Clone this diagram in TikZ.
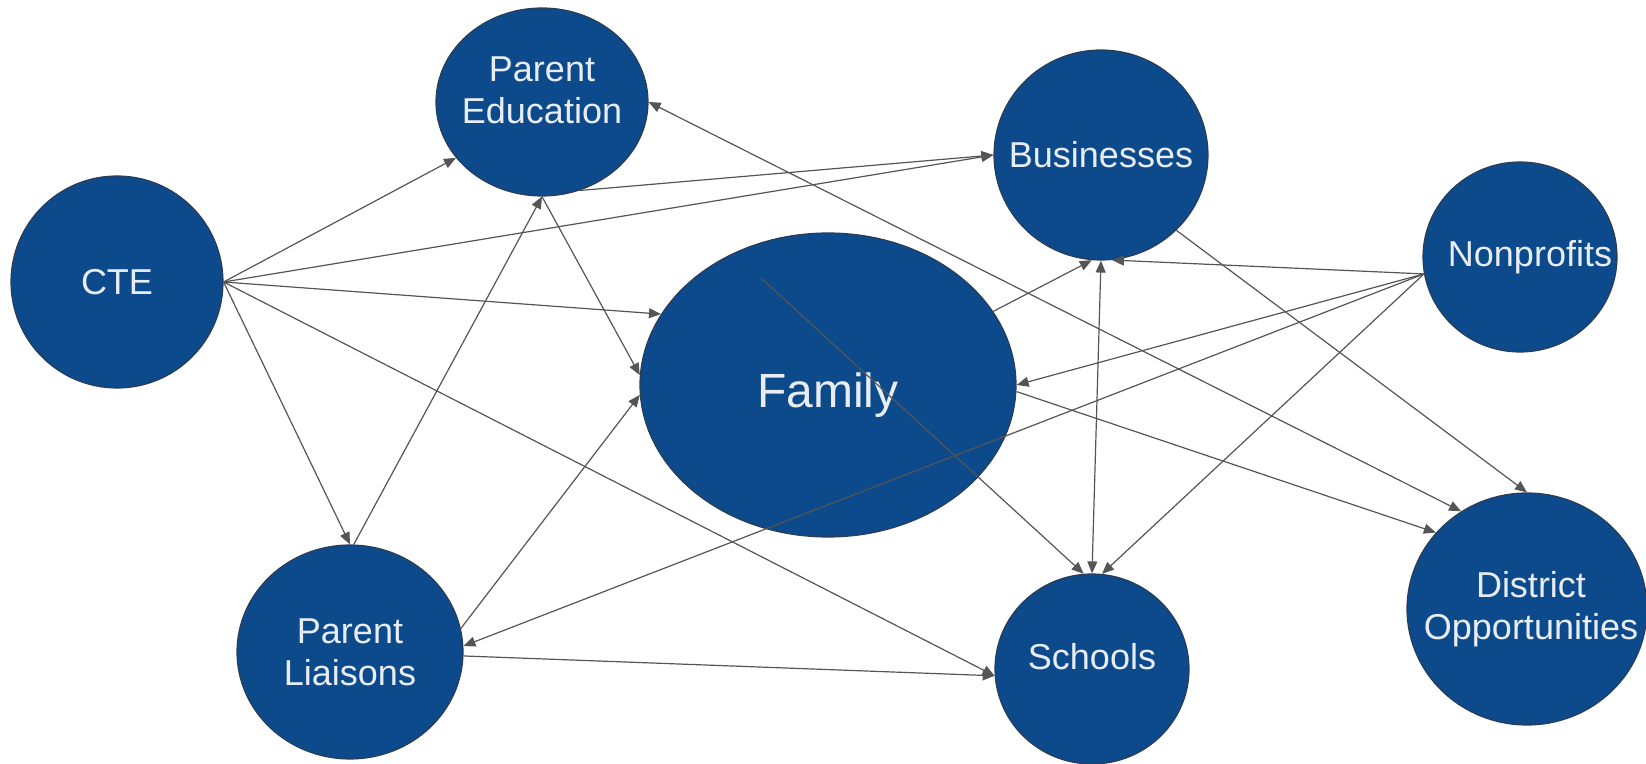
\documentclass[tikz,border=0pt]{standalone}
\usepackage{fontspec}
\setmainfont{Liberation Sans}
\usetikzlibrary{arrows.meta,shapes.geometric}

\definecolor{nodeblue}{HTML}{0D4A8B}
\definecolor{nodeedge}{HTML}{2B3C55}
\definecolor{linkgray}{HTML}{555555}
\definecolor{labelwhite}{HTML}{E8EDF4}

\tikzset{
  party/.style={ellipse,fill=nodeblue,draw=nodeedge,line width=0.6pt,inner sep=0pt},
  partytext/.style={text=labelwhite,align=center,inner sep=0pt,font=\fontsize{18}{21}\selectfont},
  link/.style={draw=linkgray,line width=0.6pt,-{Triangle[length=6pt,width=5pt]}},
  both/.style={link,{Triangle[length=6pt,width=5pt]}-{Triangle[length=6pt,width=5pt]}},
}

\begin{document}
\begin{tikzpicture}[x=0.5pt,y=-0.5pt]
  \useasboundingbox (0,0) rectangle (1646,764);
  \node[party,minimum width=106pt,minimum height=106pt,label={[partytext]center:CTE}] (cte) at (117,282) {};
  \node[party,minimum width=106pt,minimum height=94pt,label={[partytext,yshift=6pt]center:Parent\\Education}] (pedu) at (542,102) {};
  \node[party,minimum width=107pt,minimum height=105pt,label={[partytext]center:Businesses}] (bus) at (1101,155) {};
  \node[party,minimum width=97pt,minimum height=95pt,label={[partytext,xshift=5pt]center:Nonprofits}] (nonp) at (1520,257) {};
  \node[party,minimum width=188pt,minimum height=152pt,label={[partytext,yshift=-5pt,font=\fontsize{24}{28}\selectfont]center:Family}] (fam) at (828,385) {};
  \node[party,minimum width=113pt,minimum height=107pt,label={[partytext]center:Parent\\Liaisons}] (plia) at (350,652) {};
  \node[party,minimum width=97pt,minimum height=95pt,label={[partytext,yshift=6pt]center:Schools}] (sch) at (1092,669) {};
  \node[party,minimum width=120pt,minimum height=116pt,label={[partytext,xshift=2pt]center:District\\Opportunities}] (dist) at (1527,609) {};
  \coordinate (famtop) at (761,278);

  % connectors
  \foreach \from/\to in {cte.east/pedu.213, cte.east/bus.west, cte.east/fam.157,
      cte.east/plia.north, cte.east/sch.184, pedu.-67/bus.west, pedu.south/fam.177,
      plia.88/pedu.south, plia.12/fam.183, plia.-2/sch.184, nonp.190/bus.-84,
      nonp.190/fam.east, nonp.190/plia.3, nonp.190/sch.84, fam.24/bus.-95,
      famtop/sch.95, bus.-45/dist.north, fam.-2/dist.140}
    \draw[link] (\from) -- (\to);
  \draw[both] (bus.south) -- (sch.north);
  \draw[both] (pedu.east) -- (dist.124);
\end{tikzpicture}
\end{document}
